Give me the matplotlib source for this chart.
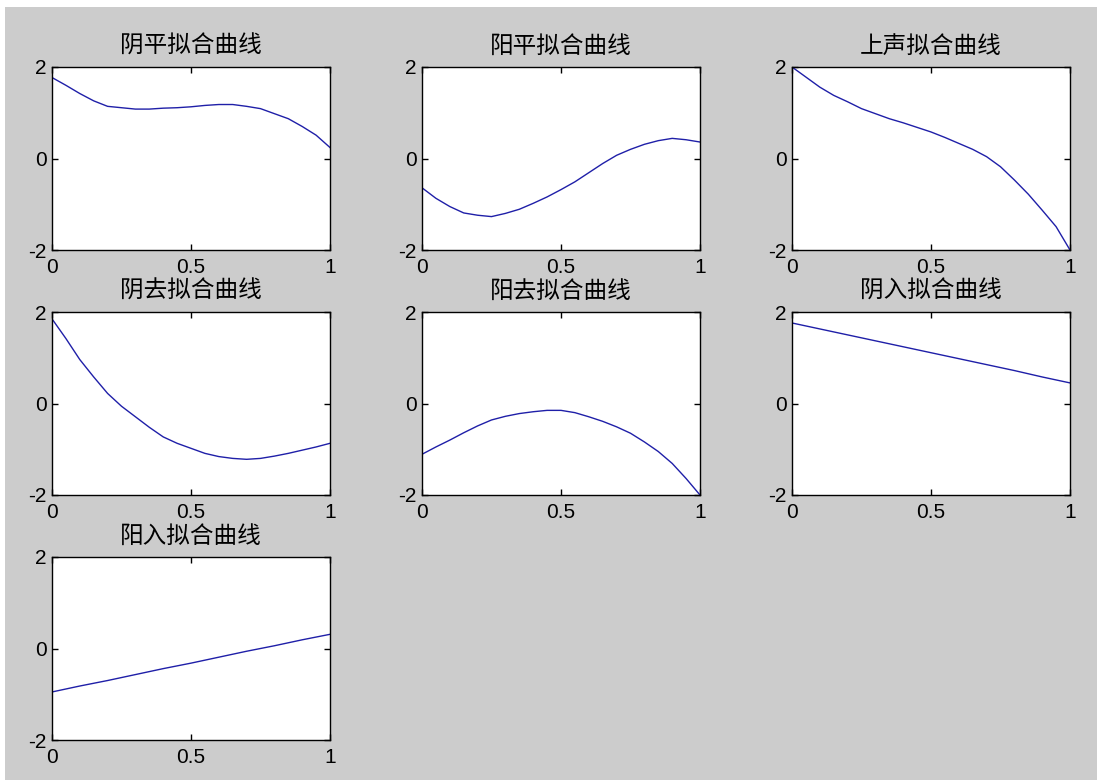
import matplotlib.pyplot as plt
import matplotlib.patches as patches
import numpy as np

plt.rcParams['font.family'] = ['Liberation Sans', 'Noto Sans CJK SC', 'DejaVu Sans']

# 拟合曲线数据 (x = 0, 0.05, ..., 1)
x = np.linspace(0, 1, 21)
x11 = np.linspace(0, 1, 11)
titles = ['阴平拟合曲线', '阳平拟合曲线', '上声拟合曲线',
          '阴去拟合曲线', '阳去拟合曲线', '阴入拟合曲线', '阳入拟合曲线']
yinping = [1.77, 1.60, 1.42, 1.26, 1.14, 1.11, 1.08, 1.08, 1.10, 1.11, 1.13,
           1.16, 1.18, 1.18, 1.14, 1.09, 0.98, 0.87, 0.70, 0.51, 0.24]
yangping = [-0.64, -0.87, -1.05, -1.19, -1.24, -1.27, -1.20, -1.11, -0.98, -0.84, -0.68,
            -0.51, -0.31, -0.11, 0.07, 0.20, 0.31, 0.39, 0.44, 0.41, 0.36]
shangsheng = [2.00, 1.78, 1.56, 1.38, 1.24, 1.09, 0.98, 0.87, 0.78, 0.68, 0.58,
              0.46, 0.33, 0.20, 0.04, -0.18, -0.47, -0.78, -1.13, -1.49, -2.00]
yinqu = [1.85, 1.42, 0.96, 0.58, 0.22, -0.06, -0.29, -0.52, -0.73, -0.87, -0.98,
         -1.09, -1.16, -1.20, -1.22, -1.20, -1.15, -1.09, -1.02, -0.95, -0.87]
yangqu = [-1.11, -0.95, -0.80, -0.64, -0.49, -0.36, -0.28, -0.22, -0.18, -0.15, -0.15,
          -0.20, -0.29, -0.39, -0.51, -0.65, -0.84, -1.05, -1.31, -1.64, -2.00]
yinru = [1.76, 1.63, 1.50, 1.37, 1.24, 1.11, 0.98, 0.85, 0.72, 0.58, 0.45]
yangru = [-0.95, -0.82, -0.70, -0.57, -0.44, -0.32, -0.19, -0.06, 0.06, 0.19, 0.31]
curves = [yinping, yangping, shangsheng, yinqu, yangqu, yinru, yangru]

W, H = 1097, 780
fig = plt.figure(figsize=(W / 100, H / 100), dpi=100, facecolor='#cccccc')

# 截图边缘的白条
fig.patches.append(patches.Rectangle((0, 1 - 7 / H), 1, 7 / H, transform=fig.transFigure,
                                     facecolor='white', edgecolor='none', zorder=0))
fig.patches.append(patches.Rectangle((0, 0), 5 / W, 1, transform=fig.transFigure,
                                     facecolor='white', edgecolor='none', zorder=0))

lefts = [52, 422, 792]
tops = [67, 312, 557]
aw, ah = 278, 183

for i, (t, y) in enumerate(zip(titles, curves)):
    r, c = divmod(i, 3)
    ax = fig.add_axes([lefts[c] / W, 1 - (tops[r] + ah) / H, aw / W, ah / H])
    xs = x if len(y) == len(x) else x11
    ax.plot(xs, y, color='#1f1fa8', linewidth=1)
    ax.set_xlim(0, 1)
    ax.set_ylim(-2, 2)
    ax.set_xticks([0, 0.5, 1])
    ax.set_xticklabels(['0', '0.5', '1'])
    ax.set_yticks([-2, 0, 2])
    ax.set_yticklabels(['-2', '0', '2'])
    ax.tick_params(direction='in', length=4, width=1, top=True, right=True,
                   labelsize=15, colors='black')
    ax.tick_params(axis='x', pad=6)
    ax.tick_params(axis='y', pad=4)
    for s in ax.spines.values():
        s.set_linewidth(1)
    ax.set_title(t, fontsize=17, pad=10, family=['Noto Sans CJK SC', 'DejaVu Sans'])

fig.savefig('out.png', dpi=100, facecolor=fig.get_facecolor())
